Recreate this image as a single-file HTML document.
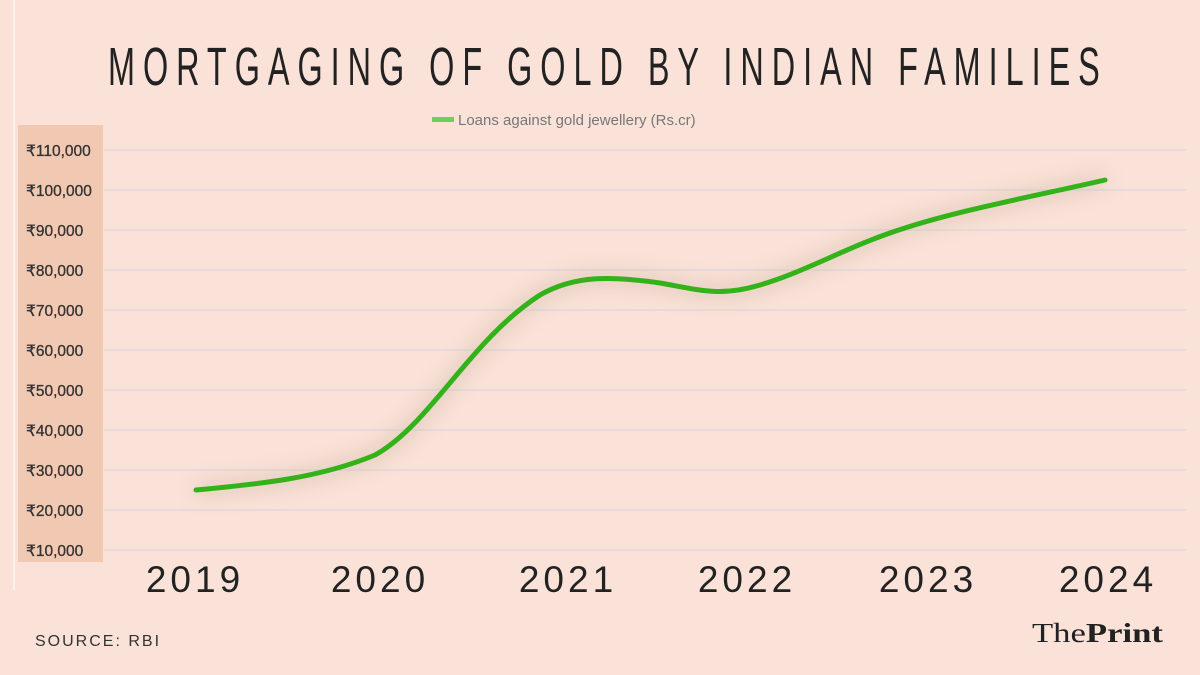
<!DOCTYPE html>
<html><head><meta charset="utf-8"><style>
html,body{margin:0;padding:0;background:#fae2d8;}
svg{display:block}
</style></head><body>
<svg width="1200" height="675" viewBox="0 0 1200 675" xmlns="http://www.w3.org/2000/svg">
<defs><filter id="b" x="-10%" y="-50%" width="120%" height="200%"><feGaussianBlur stdDeviation="10"/></filter></defs>
<rect width="1200" height="675" fill="#fae2d8"/>
<rect x="13" y="0" width="2" height="590" fill="#fdf1ec"/>
<g transform="translate(108 0) scale(0.6 1)">
<text x="0" y="85" font-family="Liberation Sans, sans-serif" font-size="54" fill="#222" textLength="1653" lengthAdjust="spacing">MORTGAGING OF GOLD BY INDIAN FAMILIES</text>
</g>
<rect x="432" y="117" width="22" height="5" fill="#6cd05c"/>
<text x="458" y="125" font-family="Liberation Sans, sans-serif" font-size="15" fill="#777">Loans against gold jewellery (Rs.cr)</text>
<rect x="18" y="125" width="85" height="437" fill="#f1c8b1"/>
<g stroke="#e6dbd8" stroke-width="2">
<line x1="104" x2="1186" y1="150" y2="150"/><line x1="104" x2="1186" y1="190" y2="190"/><line x1="104" x2="1186" y1="230" y2="230"/><line x1="104" x2="1186" y1="270" y2="270"/><line x1="104" x2="1186" y1="310" y2="310"/><line x1="104" x2="1186" y1="350" y2="350"/><line x1="104" x2="1186" y1="390" y2="390"/><line x1="104" x2="1186" y1="430" y2="430"/><line x1="104" x2="1186" y1="470" y2="470"/><line x1="104" x2="1186" y1="510" y2="510"/><line x1="104" x2="1186" y1="550" y2="550"/>
</g>
<g font-family="Liberation Sans, sans-serif" font-size="15.5" fill="#333" stroke="#333" stroke-width="0.3">
<text x="26" y="156">₹110,000</text><text x="26" y="196">₹100,000</text><text x="26" y="236">₹90,000</text><text x="26" y="276">₹80,000</text><text x="26" y="316">₹70,000</text><text x="26" y="356">₹60,000</text><text x="26" y="396">₹50,000</text><text x="26" y="436">₹40,000</text><text x="26" y="476">₹30,000</text><text x="26" y="516">₹20,000</text><text x="26" y="556">₹10,000</text>
</g>
<path d="M196,490 C260,484 320,478 375,455 C430,425 470,340 540,295 C575,275 610,276 660,283 C700,290 720,297 760,285 C810,270 850,245 905,228 C960,210 1040,195 1105,180" fill="none" stroke="#c8b0a0" stroke-width="14" opacity="0.5" filter="url(#b)"/>
<path d="M196,490 C260,484 320,478 375,455 C430,425 470,340 540,295 C575,275 610,276 660,283 C700,290 720,297 760,285 C810,270 850,245 905,228 C960,210 1040,195 1105,180" fill="none" stroke="#33b319" stroke-width="5" stroke-linecap="round"/>
<g font-family="Liberation Sans, sans-serif" font-size="37" fill="#222" letter-spacing="4" text-anchor="middle">
<text x="195" y="592">2019</text><text x="380" y="592">2020</text><text x="568" y="592">2021</text><text x="747" y="592">2022</text><text x="928" y="592">2023</text><text x="1108" y="592">2024</text>
</g>
<text x="35" y="646" font-family="Liberation Sans, sans-serif" font-size="16" letter-spacing="2" fill="#333">SOURCE: RBI</text>
<text x="1032" y="642" font-family="Liberation Serif, serif" font-size="27" fill="#222" textLength="131" lengthAdjust="spacingAndGlyphs">The<tspan font-weight="bold">Print</tspan></text>
</svg>
</body></html>
